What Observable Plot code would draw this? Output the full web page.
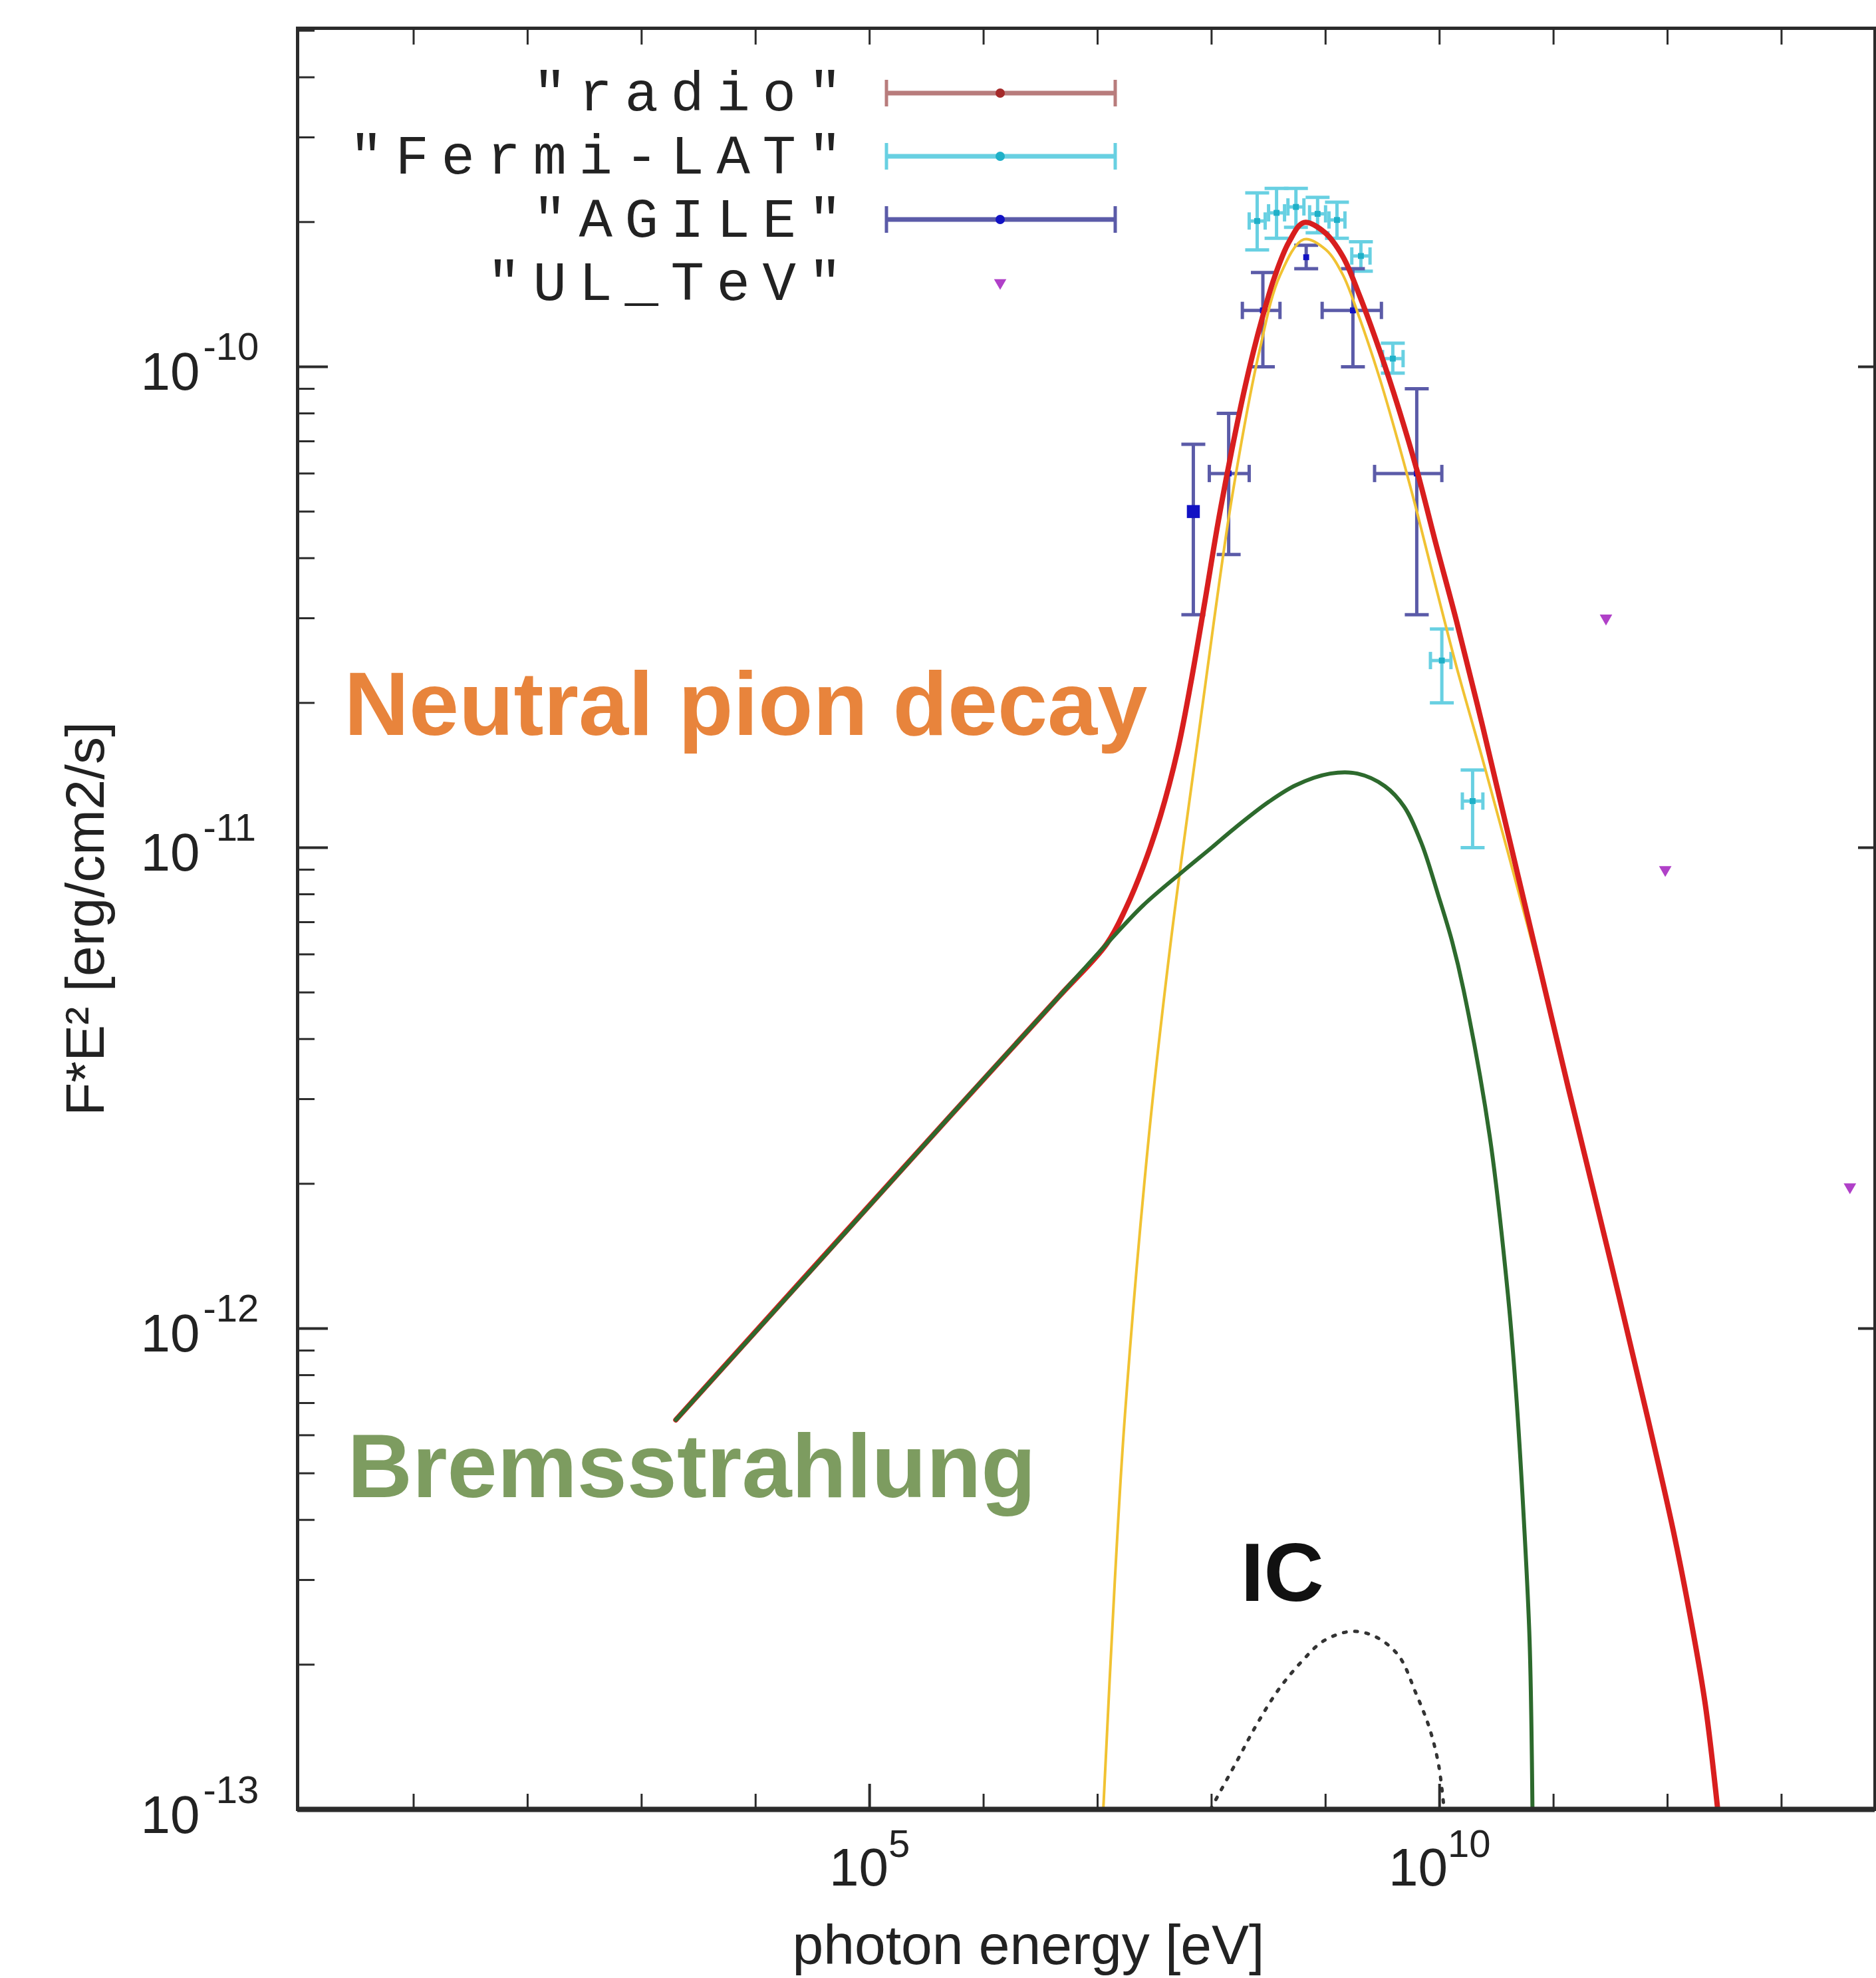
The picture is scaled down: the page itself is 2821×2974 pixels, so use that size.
<!DOCTYPE html>
<html>
<head>
<meta charset="utf-8">
<script src="https://cdn.jsdelivr.net/npm/d3@7"></script>
<script src="https://cdn.jsdelivr.net/npm/@observablehq/plot@0.6"></script>
<style>
html, body { margin: 0; padding: 0; background: #fff; }
#wrap { position: relative; width: 2821px; height: 2974px; overflow: hidden; }
</style>
</head>
<body>
<div id="wrap"></div>
<script>
// ---------------- data ----------------
// model curves: log10 photon energy [eV] and log10 F*E^2 [erg/cm2/s]
const bremLogE = [3.30, 4.50, 5.70, 6.66, 7.10, 7.40, 7.76, 8.00, 8.20, 8.50, 8.74, 9.04, 9.28, 9.52, 9.69, 9.84, 9.99, 10.11, 10.21, 10.44, 10.60, 10.67, 10.74, 10.79, 10.815];
const bremLogF = [-12.19, -11.876, -11.56, -11.31, -11.195, -11.12, -11.047, -11.0, -10.96, -10.905, -10.87, -10.846, -10.846, -10.872, -10.915, -10.99, -11.10, -11.195, -11.295, -11.60, -11.93, -12.13, -12.40, -12.65, -13.0];

const pionLogE = [7.05, 7.15, 7.24, 7.45, 7.64, 7.79, 7.90, 8.02, 8.18, 8.42, 8.60, 8.81, 9.00, 9.15, 9.30, 9.48, 9.64, 9.80, 9.97, 10.15, 10.37, 10.60, 10.88, 11.13, 11.50, 11.83, 12.05, 12.20, 12.33, 12.44];
const pionLogF = [-13.0, -12.53, -12.18, -11.60, -11.20, -10.93, -10.74, -10.53, -10.27, -9.967, -9.81, -9.735, -9.756, -9.808, -9.90, -10.028, -10.159, -10.30, -10.46, -10.625, -10.81, -11.01, -11.26, -11.50, -11.86, -12.19, -12.42, -12.60, -12.78, -13.0];

const totalLogE = [3.30, 5.70, 6.66, 7.08, 7.25, 7.40, 7.55, 7.70, 7.82, 7.94, 8.06, 8.18, 8.30, 8.42, 8.55, 8.68, 8.81, 8.99, 9.15, 9.30, 9.48, 9.64, 9.80, 9.97, 10.15, 10.37, 10.60, 10.88, 11.13, 11.50, 11.83, 12.05, 12.20, 12.33, 12.44];
const totalLogF = [-12.19, -11.56, -11.31, -11.20, -11.125, -11.04, -10.935, -10.80, -10.655, -10.49, -10.32, -10.17, -10.035, -9.92, -9.815, -9.74, -9.70, -9.72, -9.77, -9.853, -9.97, -10.086, -10.214, -10.37, -10.53, -10.74, -10.97, -11.25, -11.50, -11.86, -12.19, -12.42, -12.60, -12.78, -13.0];

const icLogE = [7.99, 8.21, 8.39, 8.59, 8.80, 8.98, 9.22, 9.43, 9.64, 9.79, 9.91, 9.99, 10.04];
const icLogF = [-13.0, -12.905, -12.826, -12.75, -12.69, -12.65, -12.63, -12.64, -12.68, -12.757, -12.83, -12.905, -13.0];

// Fermi-LAT points
const fermiLogE   = [8.40, 8.57, 8.74, 8.93, 9.10, 9.31, 9.59, 10.02, 10.29];
const fermiLogElo = [8.33, 8.50, 8.67, 8.86, 9.03, 9.23, 9.50, 9.92, 10.20];
const fermiLogEhi = [8.47, 8.64, 8.81, 9.00, 9.17, 9.39, 9.68, 10.10, 10.38];
const fermiF   = [2.01e-10, 2.09e-10, 2.15e-10, 2.08e-10, 2.02e-10, 1.70e-10, 1.04e-10, 2.45e-11, 1.25e-11];
const fermiFlo = [1.75e-10, 1.85e-10, 1.95e-10, 1.90e-10, 1.85e-10, 1.58e-10, 0.97e-10, 2.00e-11, 1.00e-11];
const fermiFhi = [2.30e-10, 2.35e-10, 2.35e-10, 2.25e-10, 2.20e-10, 1.82e-10, 1.12e-10, 2.85e-11, 1.45e-11];

// AGILE points
const agileLogE   = [7.84, 8.15, 8.45, 8.83, 9.24, 9.80];
const agileLogElo = [null, 7.98, 8.27, null, 8.97, 9.43];
const agileLogEhi = [null, 8.33, 8.60, null, 9.49, 10.02];
const agileF   = [5.0e-11, 6.0e-11, 1.31e-10, 1.69e-10, 1.31e-10, 6.0e-11];
const agileFlo = [3.05e-11, 4.07e-11, 1.0e-10, 1.60e-10, 1.0e-10, 3.05e-11];
const agileFhi = [6.9e-11, 8.0e-11, 1.57e-10, 1.79e-10, 1.60e-10, 9.0e-11];

// TeV upper limits
const ulLogE = [11.46, 11.98, 13.60];
const ulF = [3.0e-11, 9.0e-12, 1.97e-12];

// legend entries
const legendNames = ['"radio"', '"Fermi-LAT"', '"AGILE"', '"UL_TeV"'];

// axis ticks
const yMajorExp = [-13, -12, -11, -10];
const xDecadeExp = [1, 2, 3, 4, 5, 6, 7, 8, 9, 10, 11, 12, 13];
const xLabelExp = [5, 10];

// annotations
const annotText = ["Neutral pion decay", "Bremsstrahlung", "IC"];
const annotLogE = [0.39, 0.42, 8.256];
const annotLogF = [-10.765, -12.351, -12.566];

// ---------------- build tables ----------------
const curve = (le, lf) => le.map((v, i) => ({E: 10 ** v, F: 10 ** lf[i]}));
const brem = curve(bremLogE, bremLogF);
const pion = curve(pionLogE, pionLogF);
const total = curve(totalLogE, totalLogF);
const ic = curve(icLogE, icLogF);

const fermi = fermiLogE.map((v, i) => ({E: 10 ** v, Elo: 10 ** fermiLogElo[i], Ehi: 10 ** fermiLogEhi[i], F: fermiF[i], Flo: fermiFlo[i], Fhi: fermiFhi[i]}));
const agile = agileLogE.map((v, i) => ({E: 10 ** v, Elo: agileLogElo[i] == null ? null : 10 ** agileLogElo[i], Ehi: agileLogEhi[i] == null ? null : 10 ** agileLogEhi[i], F: agileF[i], Flo: agileFlo[i], Fhi: agileFhi[i]}));
const agileX = agile.filter(d => d.Elo != null);
const ul = ulLogE.map((v, i) => ({E: 10 ** v, F: ulF[i]}));
const annots = annotText.map((t, i) => ({text: t, E: 10 ** annotLogE[i], F: 10 ** annotLogF[i]}));

const yMajor = yMajorExp.map(e => 10 ** e);
const yMinor = [];
for (const e of yMajorExp) for (let k = 2; k <= 9; k++) yMinor.push(k * 10 ** e);
const xDecades = xDecadeExp.map(e => 10 ** e);
const xMinorTicks = xDecadeExp.filter(e => !xLabelExp.includes(e)).map(e => 10 ** e);
const xMajorTicks = xLabelExp.map(e => 10 ** e);

// ---------------- layout & style ----------------
const W = 2821, H = 2974;
const mL = 447, mR = 2, mT = 42, mB = 254;
const plotW = W - mL - mR, plotH = H - mT - mB;
const xDomain = [10 ** -0.018, 10 ** 13.82];
const yDomain = [1e-13, 10 ** -9.296];
const yMinorIn = yMinor.filter(v => v < yDomain[1]);

const C = {
  frame: "#2b2b2b", red: "#d81e1e", green: "#2d6a2d", yellow: "#f1c232", ic: "#333",
  fermiBar: "#68d0e2", fermiDot: "#1fb0c8", agileBar: "#5b5ba8", agileDot: "#1212c4", ul: "#b040c8",
  radioBar: "#b87c7c", radioDot: "#a52a2a", orange: "#e8843c", brem: "#7d9c60", text: "#222"
};
const hbar = {draw(ctx, size) { const r = Math.sqrt(size / Math.PI); ctx.moveTo(-r, 0); ctx.lineTo(r, 0); }};
const vbar = {draw(ctx, size) { const r = Math.sqrt(size / Math.PI); ctx.moveTo(0, -r); ctx.lineTo(0, r); }};

const baseFont = 80, supFont = 58;
const digitW = 0.556;
const xLabelMarks = xLabelExp.flatMap(e => {
  const wBase = 2 * digitW * baseFont;
  const wSup = String(e).length * digitW * supFont;
  const start = -(wBase + wSup) / 2;
  return [
    Plot.text([10 ** e], {x: d => d, frameAnchor: "bottom", text: () => "10", textAnchor: "start", lineAnchor: "bottom", dx: start, dy: 114, fontSize: baseFont, fill: C.text}),
    Plot.text([10 ** e], {x: d => d, frameAnchor: "bottom", text: () => String(e), textAnchor: "start", lineAnchor: "bottom", dx: start + wBase, dy: 71, fontSize: supFont, fill: C.text})
  ];
});

const errMarks = (rows, rowsX, bar, dot) => [
  Plot.ruleX(rows, {x: "E", y1: "Flo", y2: "Fhi", stroke: bar, strokeWidth: 5}),
  Plot.dot(rows, {x: "E", y: "Flo", symbol: hbar, r: 18, stroke: bar, strokeWidth: 5, fill: "none"}),
  Plot.dot(rows, {x: "E", y: "Fhi", symbol: hbar, r: 18, stroke: bar, strokeWidth: 5, fill: "none"}),
  Plot.ruleY(rowsX, {y: "F", x1: "Elo", x2: "Ehi", stroke: bar, strokeWidth: 5}),
  Plot.dot(rowsX, {x: "Elo", y: "F", symbol: vbar, r: 13, stroke: bar, strokeWidth: 5, fill: "none"}),
  Plot.dot(rowsX, {x: "Ehi", y: "F", symbol: vbar, r: 13, stroke: bar, strokeWidth: 5, fill: "none"}),
  Plot.dot(rows, {x: "E", y: "F", symbol: "square", r: 5, fill: dot})
];

const chart = Plot.plot({
  width: W, height: H,
  marginLeft: mL, marginRight: mR, marginTop: mT, marginBottom: mB,
  style: {fontFamily: "'Liberation Sans', Arial, Helvetica, sans-serif", background: "#fff", overflow: "visible"},
  x: {type: "log", domain: xDomain, axis: null},
  y: {type: "log", domain: yDomain, axis: null},
  marks: [
    // data with error bars
    ...errMarks(fermi, fermi, C.fermiBar, C.fermiDot),
    ...errMarks(agile, agileX, C.agileBar, C.agileDot),
    Plot.dot(agile.slice(0, 1), {x: "E", y: "F", symbol: "square", r: 11, fill: C.agileDot}),
    Plot.dot(ul, {x: "E", y: "F", symbol: "triangle", rotate: 180, r: 7, fill: C.ul}),
    // model curves
    Plot.line(pion, {x: "E", y: "F", stroke: C.yellow, strokeWidth: 4, curve: "catmull-rom", clip: true}),
    Plot.line(total, {x: "E", y: "F", stroke: C.red, strokeWidth: 8, curve: "catmull-rom", clip: true}),
    Plot.line(brem, {x: "E", y: "F", stroke: C.green, strokeWidth: 6, curve: "catmull-rom", clip: true}),
    Plot.line(ic, {x: "E", y: "F", stroke: C.ic, strokeWidth: 5, strokeDasharray: "4,13", curve: "catmull-rom", clip: true}),
    // annotations
    Plot.text(annots.slice(0, 1), {x: "E", y: "F", text: "text", textAnchor: "start", lineAnchor: "bottom", fontSize: 135, fontWeight: "bold", fill: C.orange}),
    Plot.text(annots.slice(1, 2), {x: "E", y: "F", text: "text", textAnchor: "start", lineAnchor: "bottom", fontSize: 135, fontWeight: "bold", fill: C.brem}),
    Plot.text(annots.slice(2, 3), {x: "E", y: "F", text: "text", textAnchor: "start", lineAnchor: "bottom", fontSize: 125, fontWeight: "bold", fill: "#111"}),
    // frame & ticks
    Plot.frame({stroke: C.frame, strokeWidth: 5}),
    Plot.ruleY([yDomain[0]], {stroke: C.frame, strokeWidth: 8}),
    Plot.ruleY(yMajor, {insetRight: plotW - 46, stroke: C.frame, strokeWidth: 4}),
    Plot.ruleY(yMinorIn, {insetRight: plotW - 26, stroke: C.frame, strokeWidth: 3}),
    Plot.ruleY(yMajor, {insetLeft: plotW - 25, stroke: C.frame, strokeWidth: 4}),
    Plot.ruleX(xMajorTicks, {insetTop: plotH - 38, stroke: C.frame, strokeWidth: 4}),
    Plot.ruleX(xMinorTicks, {insetTop: plotH - 23, stroke: C.frame, strokeWidth: 3}),
    Plot.ruleX(xDecades, {insetBottom: plotH - 25, stroke: C.frame, strokeWidth: 3}),
    // y tick labels
    Plot.text(yMajor, {y: d => d, frameAnchor: "left", text: () => "10", textAnchor: "end", lineAnchor: "bottom", dx: -147, dy: 35, fontSize: baseFont, fill: C.text}),
    Plot.text(yMajor, {y: d => d, frameAnchor: "left", text: d => String(Math.round(Math.log10(d))), textAnchor: "start", lineAnchor: "bottom", dx: -142, dy: -10, fontSize: supFont, fill: C.text}),
    // x tick labels
    ...xLabelMarks,
    // axis titles
    Plot.text(["photon energy [eV]"], {frameAnchor: "bottom", textAnchor: "middle", lineAnchor: "bottom", dx: -87, dy: 232, fontSize: 84, fill: C.text}),
    Plot.text(["F*E\u00B2 [erg/cm2/s]"], {frameAnchor: "left", rotate: -90, textAnchor: "middle", lineAnchor: "bottom", dx: -292, fontSize: 82, fill: C.text})
  ]
});

document.getElementById("wrap").appendChild(chart);

// ---------------- legend (inside the plot, gnuplot style) ----------------
const svg = d3.select(chart);
const lg = svg.append("g").attr("aria-label", "legend");
const legendStyle = [
  {bar: C.radioBar, dot: C.radioDot, kind: "err"},
  {bar: C.fermiBar, dot: C.fermiDot, kind: "err"},
  {bar: C.agileBar, dot: C.agileDot, kind: "err"},
  {bar: null, dot: C.ul, kind: "tri"}
];
const lgFont = 84, lgSpacing = 18.6;
const lgTextRight = 1266 + lgSpacing, lgTop = 166, lgStep = 95, lgX1 = 1333, lgX2 = 1677, lgXc = 1504;
legendNames.forEach((name, i) => {
  const base = lgTop + i * lgStep;
  lg.append("text").attr("x", lgTextRight).attr("y", base)
    .attr("text-anchor", "end")
    .attr("font-family", "'Liberation Mono', 'DejaVu Sans Mono', monospace")
    .attr("font-size", lgFont).attr("letter-spacing", lgSpacing).attr("fill", C.text).text(name);
  const cy = base - 26;
  const st = legendStyle[i];
  if (st.kind === "err") {
    lg.append("line").attr("x1", lgX1).attr("x2", lgX2).attr("y1", cy).attr("y2", cy).attr("stroke", st.bar).attr("stroke-width", 7);
    lg.append("line").attr("x1", lgX1).attr("x2", lgX1).attr("y1", cy - 20).attr("y2", cy + 20).attr("stroke", st.bar).attr("stroke-width", 5);
    lg.append("line").attr("x1", lgX2).attr("x2", lgX2).attr("y1", cy - 20).attr("y2", cy + 20).attr("stroke", st.bar).attr("stroke-width", 5);
    lg.append("circle").attr("cx", lgXc).attr("cy", cy).attr("r", 7).attr("fill", st.dot);
  } else {
    lg.append("path").attr("d", d3.symbol(d3.symbolTriangle, 150)()).attr("transform", `translate(${lgXc},${cy}) rotate(180)`).attr("fill", st.dot);
  }
});
</script>
</body>
</html>
